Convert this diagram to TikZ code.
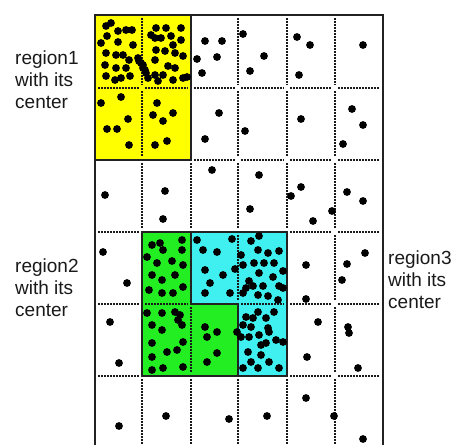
\documentclass[tikz,border=0pt]{standalone}
\usepackage{fontspec}
\setmainfont{Liberation Sans}
\usepackage{xcolor}
\usetikzlibrary{positioning}
\definecolor{regyellow}{HTML}{FFFF00}
\definecolor{reggreen}{HTML}{22EE22}
\definecolor{regcyan}{HTML}{40F0F0}
\definecolor{frame}{HTML}{222222}

\begin{document}
\begin{tikzpicture}[
    x=1pt, y=-1pt,
    gridline/.style={line width=1.5pt, dash pattern=on 1.5pt off 1.5pt, black!90},
    border/.style={line width=1.3pt, draw=frame},
    pt/.style={fill=black, draw=none},
    lbl/.style={font=\fontsize{19}{22}\selectfont, align=left, anchor=north west, inner sep=0pt, text=black!90}
  ]
  \useasboundingbox (0,0) rectangle (461,445);
  \fill[white] (0,0) rectangle (461,445);

  % coloured regions
  \fill[regyellow] (95,15) rectangle (191,160);
  \fill[reggreen] (142,232) -- (191,232) -- (191,304) -- (238,304) -- (238,376) -- (142,376) -- cycle;
  \fill[regcyan] (191,232) -- (287,232) -- (287,376) -- (238,376) -- (238,304) -- (191,304) -- cycle;

  % dotted cell grid
  \foreach \y in {88,160,232,304,376}
    \foreach \xa/\xb in {95/142,142/191,191/238,238/287,287/335,335/383}
      \draw[gridline] (\xa+3,\y) -- (\xb-3,\y);
  \foreach \x in {142,191,238,287,335}
    \foreach \ya/\yb in {15/88,88/160,160/232,232/304,304/376,376/448}
      \draw[gridline] (\x,\ya+3) -- (\x,\yb-3);

  % region borders
  \draw[border] (95,15) rectangle (191,160);
  \draw[border] (142,232) -- (191,232) -- (191,304) -- (238,304) -- (238,376) -- (142,376) -- cycle;
  \draw[border] (191,232) -- (287,232) -- (287,376) -- (238,376) -- (238,304) -- (191,304) -- cycle;

  % points
  \foreach \p in {
      (106,26),(111,23),(107,36),(118,31),(126,30),(132,30),(101,43),(118,42),(133,45),
      (106,53),(116,55),(123,55),(105,65),(116,68),(126,68),(129,60),(106,76),(115,80),
      (121,78),(130,76),(141,63),(143,68),(146,73),(138,58),(139,61),(143,65),(145,70),(148,78),
      (156,28),(166,28),(181,28),(151,35),(155,38),(161,38),(171,36),(173,45),(181,40),
      (156,50),(165,51),(175,53),(183,56),(155,60),(168,66),(175,68),(155,75),(163,75),
      (173,80),(183,78),(158,81),(187,77),(197,59),
      (101,103),(121,97),(128,119),(107,129),(117,129),(129,145),(157,103),(153,115),
      (163,121),(173,113),(155,145),(167,141),
      (205,41),(222,41),(217,57),(202,73),(243,34),(264,56),(250,71),(297,37),(310,45),
      (299,75),(363,45),
      (219,113),(205,139),(245,131),(301,119),(352,109),(363,125),(343,144),
      (105,195),(165,191),(163,219),(212,170),(259,175),(250,209),(301,187),(291,196),
      (313,221),(347,192),(363,201),(332,211),
      (103,252),(127,283),(306,265),(306,299),(365,253),(347,264),(342,280),
      (110,322),(119,363),(318,322),(307,357),(348,327),(349,333),(358,368),
      (119,426),(166,416),(229,419),(267,416),(306,398),(334,416),(363,439),
      (152,245),(160,243),(163,250),(182,240),(182,250),(147,257),(157,263),(172,261),
      (183,265),(152,275),(162,280),(175,275),(149,290),(162,293),(173,293),(183,287),
      (197,240),(203,250),(217,252),(232,239),(205,270),(223,275),(235,269),(210,283),
      (205,293),(230,293),
      (251,241),(259,236),(258,250),(268,253),(279,251),(241,255),(243,265),(254,263),
      (264,263),(274,263),(259,273),(283,271),(249,281),(253,286),(246,288),(263,286),
      (279,286),(283,288),(243,293),(258,295),(268,296),(278,300),(273,277),
      (258,312),(274,312),(246,317),(253,318),(266,318),(243,325),(251,327),(268,328),
      (241,337),(249,337),(259,335),(269,332),(276,340),(283,342),(261,345),(266,343),
      (248,352),(261,355),(251,362),(269,362),(243,368),(258,368),(279,368),
      (147,313),(162,313),(175,312),(180,315),(178,320),(182,325),(152,325),(162,330),
      (152,343),(183,342),(167,352),(177,350),(152,357),(152,370),(163,368),(183,367),
      (205,327),(217,332),(207,337),(237,332),(217,353),(207,362)}
    \fill[pt] \p circle (3.9);

  % outer frame
  \draw[border] (95,445) -- (95,15) -- (383,15) -- (383,445);

  % labels
  \node[lbl] (reg1) at (15,51) {region1\\with its\\center};
  \node[lbl] (reg2) at (15,259) {region2\\with its\\center};
  \node[lbl] (reg3) at (388,251) {region3\\with its\\center};
\end{tikzpicture}
\end{document}
